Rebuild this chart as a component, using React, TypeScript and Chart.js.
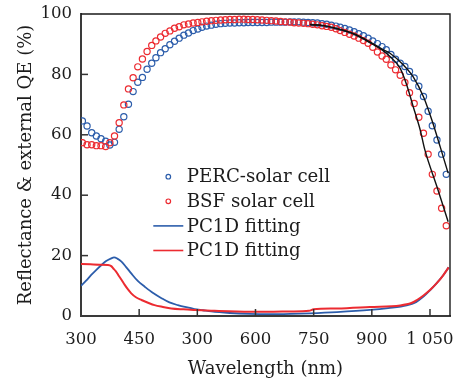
import React, { useEffect, useRef } from "react";
import { Chart, registerables } from "chart.js";

Chart.register(...registerables);

// ---- data ----
const tickValues = [300, 425, 550, 675, 800, 925, 1050];
const tickLabels = ["300", "450", "300", "600", "750", "900", "1 050"];
const yTicks = [0, 20, 40, 60, 80, 100];

const wavelengths = [
  303, 313, 323, 333, 343, 353, 362, 372, 382, 392,
  402, 412, 422, 432, 442, 452, 461, 471, 481, 491,
  501, 511, 521, 531, 541, 551, 560, 570, 580, 590,
  600, 610, 620, 630, 640, 650, 659, 669, 679, 689,
  699, 709, 719, 729, 739, 749, 758, 768, 778, 788,
  798, 808, 818, 828, 838, 848, 857, 867, 877, 887,
  897, 907, 917, 927, 937, 947, 956, 966, 976, 986,
  996, 1006, 1016, 1026, 1036, 1046, 1055, 1065, 1075, 1085,
];

const percQE = [
  64.6, 62.9, 60.7, 59.6, 58.7, 57.9, 56.6, 57.5, 61.8, 66.0,
  70.1, 74.3, 77.4, 79.0, 81.7, 83.7, 85.5, 87.2, 88.5, 89.8,
  91.0, 92.0, 93.0, 93.7, 94.5, 95.0, 95.6, 96.0, 96.3, 96.6,
  96.8, 96.9, 97.0, 97.0, 97.1, 97.1, 97.2, 97.2, 97.2, 97.2,
  97.2, 97.3, 97.3, 97.3, 97.3, 97.4, 97.4, 97.4, 97.3, 97.2,
  97.1, 97.0, 96.8, 96.6, 96.3, 96.0, 95.6, 95.2, 94.7, 94.1,
  93.5, 92.8, 92.0, 91.1, 90.2, 89.2, 88.2, 86.6, 85.0, 83.7,
  82.6, 81.0, 78.8, 76.1, 72.7, 67.8, 63.0, 58.3, 53.6, 46.9,
];

const bsfQE = [
  57.4, 56.7, 56.7, 56.4, 56.4, 56.1, 57.4, 59.6, 64.0, 69.9,
  75.2, 78.9, 82.5, 85.1, 87.6, 89.6, 91.1, 92.4, 93.6, 94.4,
  95.3, 95.8, 96.4, 96.7, 97.0, 97.2, 97.4, 97.6, 97.8, 97.9,
  98.0, 98.1, 98.2, 98.2, 98.3, 98.3, 98.2, 98.2, 98.1, 98.0,
  97.9, 97.8, 97.7, 97.5, 97.4, 97.3, 97.1, 97.0, 96.9, 96.8,
  96.6, 96.4, 96.1, 95.9, 95.6, 95.1, 94.5, 93.9, 93.3, 92.7,
  92.0, 91.2, 90.3, 89.0, 87.4, 86.1, 85.0, 83.1, 81.5, 79.7,
  77.3, 73.9, 70.4, 65.8, 60.5, 53.6, 46.9, 41.4, 35.7, 29.9,
];

const fitWlPerc = [792, 814, 850, 885, 921, 950, 964, 993, 1014, 1036, 1054, 1072, 1089];
const fitPerc = [96.5, 96.3, 95.2, 93.6, 90.8, 88.1, 87.0, 83.1, 79.2, 72.6, 64.9, 56.0, 47.3];

const fitWlBsf = [792, 814, 850, 885, 921, 950, 964, 986, 1000, 1014, 1029, 1039, 1065, 1089];
const fitBsf = [96.5, 96.3, 95.1, 93.4, 90.5, 87.8, 85.9, 82.0, 76.5, 69.3, 61.6, 55.0, 42.8, 31.2];

const rWlPerc = [
  300, 311, 322, 333, 344, 354, 365, 371, 378, 387,
  397, 408, 422, 437, 455, 473, 490, 508, 526, 544,
  562, 580, 620, 663, 700, 750, 792, 850, 921, 960,
  1000, 1020, 1036, 1050, 1064, 1078, 1090,
];
const rPerc = [
  10.0, 11.7, 13.6, 15.3, 16.9, 18.2, 19.1, 19.4, 19.0, 18.0,
  16.2, 14.1, 11.6, 9.7, 7.6, 5.9, 4.5, 3.6, 2.9, 2.3,
  1.9, 1.5, 1.0, 0.7, 0.6, 0.7, 0.9, 1.3, 2.0, 2.6,
  3.5, 4.6, 6.4, 8.5, 10.8, 13.4, 16.1,
];

const rWlBsf = [
  300, 320, 340, 358, 365, 369, 375, 380, 387, 394,
  401, 408, 418, 430, 444, 458, 476, 494, 520, 544,
  587, 663, 700, 750, 790, 800, 850, 921, 986, 1010,
  1022, 1036, 1050, 1064, 1078, 1090,
];
const rBsf = [
  17.2, 17.1, 17.0, 16.9, 16.5, 15.8, 14.8, 13.6, 12.0, 10.3,
  8.8, 7.5, 6.2, 5.3, 4.4, 3.6, 3.0, 2.5, 2.2, 2.0,
  1.7, 1.4, 1.4, 1.5, 1.7, 2.2, 2.5, 3.0, 3.5, 4.3,
  5.3, 6.8, 8.6, 10.8, 13.4, 16.1,
];

const BLUE = "#2c5dab";
const RED = "#ec2b31";
const TEXT = "#1c1c1c";
const FONT = "'DejaVu Serif', serif";

const zip = (xs: number[], ys: number[]) => xs.map((x, i) => ({ x, y: ys[i] }));

const noPad = (scale: any) => {
  scale.paddingTop = 0;
  scale.paddingBottom = 0;
  scale.paddingLeft = 0;
  scale.paddingRight = 0;
};

const framePlugin = {
  id: "frame",
  afterDraw(chart: any) {
    const { ctx, chartArea } = chart;
    const { left, right, top, bottom } = chartArea;
    const xs = chart.scales.x;
    const ys = chart.scales.y;
    ctx.save();
    ctx.strokeStyle = "#1a1a1a";
    ctx.lineWidth = 1.4;
    ctx.beginPath();
    ctx.moveTo(left, top);
    ctx.lineTo(right, top);
    ctx.lineTo(right, bottom);
    ctx.stroke();
    ctx.strokeStyle = "#333";
    ctx.lineWidth = 1.5;
    xs.ticks.forEach((t: any) => {
      const px = xs.getPixelForValue(t.value);
      if (px <= left + 1 || px >= right - 1) return;
      ctx.beginPath();
      ctx.moveTo(px, bottom);
      ctx.lineTo(px, bottom - 7);
      ctx.stroke();
    });
    ys.ticks.forEach((t: any) => {
      const py = ys.getPixelForValue(t.value);
      if (py <= top + 1 || py >= bottom - 1) return;
      ctx.beginPath();
      ctx.moveTo(left, py);
      ctx.lineTo(left + 7, py);
      ctx.stroke();
    });
    ctx.restore();
  },
};

const legendPlugin = {
  id: "customLegend",
  afterDraw(chart: any) {
    const { ctx } = chart;
    const ds = chart.data.datasets;
    const entries = [
      { index: 3, kind: "point" },
      { index: 2, kind: "point" },
      { index: 5, kind: "line" },
      { index: 4, kind: "line" },
    ];
    const lineX0 = 153.3;
    const lineX1 = 183.3;
    const markX = 168.3;
    const textX = 186.7;
    const y0 = 176.7;
    const dy = 24.6;
    ctx.save();
    ctx.font = `18.2px ${FONT}`;
    ctx.textBaseline = "middle";
    ctx.textAlign = "left";
    entries.forEach((e, i) => {
      const d = ds[e.index];
      const y = y0 + i * dy;
      ctx.strokeStyle = d.borderColor;
      if (e.kind === "point") {
        ctx.lineWidth = 1.2;
        ctx.beginPath();
        ctx.arc(markX, y, 2.3, 0, Math.PI * 2);
        ctx.stroke();
      } else {
        ctx.lineWidth = 1.6;
        ctx.beginPath();
        ctx.moveTo(lineX0, y);
        ctx.lineTo(lineX1, y);
        ctx.stroke();
      }
      ctx.fillStyle = TEXT;
      ctx.fillText(d.label, textX, y + 1);
    });
    ctx.restore();
  },
};

export default function App() {
  const ref = useRef<HTMLCanvasElement | null>(null);

  useEffect(() => {
    if (!ref.current) return;
    const chart = new Chart(ref.current, {
      type: "line",
      data: {
        datasets: [
          {
            label: "fit PERC",
            data: zip(fitWlPerc, fitPerc),
            borderColor: "#111",
            borderWidth: 1.4,
            pointRadius: 0,
            cubicInterpolationMode: "monotone",
            fill: false,
          },
          {
            label: "fit BSF",
            data: zip(fitWlBsf, fitBsf),
            borderColor: "#111",
            borderWidth: 1.4,
            pointRadius: 0,
            cubicInterpolationMode: "monotone",
            fill: false,
          },
          {
            label: "BSF solar cell",
            data: zip(wavelengths, bsfQE),
            borderColor: RED,
            backgroundColor: "rgba(0,0,0,0)",
            showLine: false,
            pointRadius: 3.1,
            pointBorderWidth: 1.2,
            pointBackgroundColor: "rgba(0,0,0,0)",
            pointBorderColor: RED,
          },
          {
            label: "PERC-solar cell",
            data: zip(wavelengths, percQE),
            borderColor: BLUE,
            backgroundColor: "rgba(0,0,0,0)",
            showLine: false,
            pointRadius: 3.1,
            pointBorderWidth: 1.2,
            pointBackgroundColor: "rgba(0,0,0,0)",
            pointBorderColor: BLUE,
          },
          {
            label: "PC1D fitting",
            data: zip(rWlBsf, rBsf),
            borderColor: RED,
            borderWidth: 2,
            pointRadius: 0,
            cubicInterpolationMode: "monotone",
            fill: false,
          },
          {
            label: "PC1D fitting",
            data: zip(rWlPerc, rPerc),
            borderColor: BLUE,
            borderWidth: 1.8,
            pointRadius: 0,
            cubicInterpolationMode: "monotone",
            fill: false,
          },
        ],
      },
      options: {
        animation: false,
        responsive: false,
        events: [],
        layout: { padding: { left: 0, right: 9, top: 14, bottom: 0 } },
        plugins: {
          legend: { display: false },
          tooltip: { enabled: false },
        },
        scales: {
          x: {
            type: "linear",
            min: 300,
            max: 1093,
            grid: { display: false, drawTicks: false },
            border: { display: true, color: "#3a3a3a", width: 2 },
            afterBuildTicks: (scale: any) => {
              scale.ticks = tickValues.map((v) => ({ value: v }));
            },
            afterFit: (scale: any) => {
              scale.height = 69;
              noPad(scale);
            },
            ticks: {
              autoSkip: false,
              maxRotation: 0,
              padding: 14,
              color: TEXT,
              font: { family: FONT, size: 16.5 },
              callback: (_v: any, i: number) => tickLabels[i],
            },
            title: {
              display: true,
              text: "Wavelength (nm)",
              color: TEXT,
              font: { family: FONT, size: 18 },
              padding: { top: 0, bottom: 5 },
            },
          },
          y: {
            type: "linear",
            min: 0,
            max: 100,
            grid: { display: false, drawTicks: false },
            border: { display: true, color: "#3a3a3a", width: 2 },
            afterBuildTicks: (scale: any) => {
              scale.ticks = yTicks.map((v) => ({ value: v }));
            },
            afterFit: (scale: any) => {
              scale.width = 81;
              noPad(scale);
            },
            ticks: {
              padding: 9,
              color: TEXT,
              font: { family: FONT, size: 16.5 },
            },
            title: {
              display: true,
              text: "Reflectance & external QE (%)",
              color: TEXT,
              font: { family: FONT, size: 18 },
              padding: { top: 16, bottom: 0 },
            },
          },
        },
      },
      plugins: [framePlugin, legendPlugin],
    } as any);
    return () => chart.destroy();
  }, []);

  return (
    <div style={{ position: "absolute", left: 0, top: 0, width: 459, height: 385, background: "#fff" }}>
      <canvas ref={ref} width={459} height={385} style={{ display: "block" }} />
    </div>
  );
}
